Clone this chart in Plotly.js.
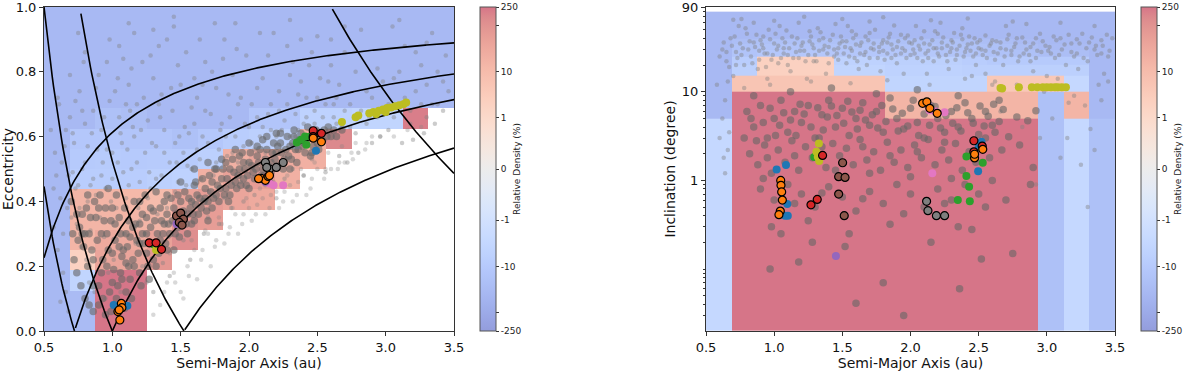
<!DOCTYPE html>
<html>
<head>
<meta charset="utf-8">
<script src="https://cdn.plot.ly/plotly-3.0.1.min.js"></script>
<style>body{margin:0;background:#fff;} #plot{width:1200px;height:372px;}</style>
</head>
<body>
<div id="plot"></div>
<script>
// bin edges of the density maps
var aEdges = [0.5, 0.6875, 0.875, 1.0625, 1.25, 1.4375, 1.625, 1.8125, 2.0, 2.1875, 2.375, 2.5625, 2.75, 2.9375, 3.125, 3.3125, 3.5];
var eEdges = [0, 0.0625, 0.125, 0.1875, 0.25, 0.3125, 0.375, 0.4375, 0.5, 0.5625, 0.625, 0.6875, 0.75, 0.8125, 0.875, 0.9375, 1.0];
// inclination bins are 5 deg wide, the first one starts at the axis bottom (0.02)
var incEdges = [0.02, 5, 10, 15, 20, 25, 30, 35, 40, 45, 50, 55, 60, 65, 70, 75, 80];

// relative density (%) per bin, one row per e bin (bottom to top), null = empty bin
var N = null;
var densityAE = [
  [-35, -30, 250, 250, N, N, N, N, N, N, N, N, N, N, N, N],
  [-35, -30, 250, 250, N, N, N, N, N, N, N, N, N, N, N, N],
  [-35, -4, 250, 250, N, N, N, N, N, N, N, N, N, N, N, N],
  [-35, 2, 40, 40, 80, N, N, N, N, N, N, N, N, N, N, N],
  [-35, 15, 30, 30, 50, 120, N, N, N, N, N, N, N, N, N, N],
  [-35, 15, 15, 15, 15, 90, 60, N, N, N, N, N, N, N, N, N],
  [-35, 15, 15, 12, 10, 40, 60, 40, 30, N, N, N, N, N, N, N],
  [-35, -8, -8, -8, -6, -5, 20, 50, 60, 20, N, N, N, N, N, N],
  [-35, -10, -9, -10, -9, -9, -6, 20, 40, 30, 20, N, N, N, N, N],
  [-35, -12, -12, -14, -14, -20, -12, -8, -6, -6, 20, 150, N, N, N, N],
  [-35, -35, -20, -25, -35, -35, -35, -35, -14, -14, -5, -5, -4, -4, 200, N],
  [-35, -35, -35, -35, -35, -35, -35, -35, -35, -35, -35, -35, -35, -35, -35, -35],
  [-35, -35, -35, -35, -35, -35, -35, -35, -35, -35, -35, -35, -35, -35, -35, -35],
  [-35, -35, -35, -35, -35, -35, -35, -35, -35, -35, -35, -35, -35, -35, -35, -35],
  [-35, -35, -35, -35, -35, -35, -35, -35, -35, -35, -35, -35, -35, -35, -35, -35],
  [-35, -35, -35, -35, -35, -35, -35, -35, -35, -35, -35, -35, -35, -35, -35, -35]
];
var densityAI = [
  [-3, 250, 250, 250, 250, 250, 250, 250, 250, 250, 250, 250, 250, -20, -3, -20],
  [-35, 250, 250, 250, 250, 250, 250, 15, 15, 15, 15, 15, 15, -20, 15, -35],
  [-35, 5, 5, 5, 5, 5, 5, -4, -4, -4, -4, 4, 4, 4, -3, -35],
  [-35, -6, 2, 2, 2, -4, -4, -5, -5, -5, -6, -6, -6, -6, -6, -35],
  [-35, -8, 2, 2, 2, -5, -5, -6, -6, -6, -8, -10, -10, -10, -10, -35],
  [-35, -15, -12, -12, -12, -12, -12, -12, -12, -15, -15, -18, -20, -25, -25, -35],
  [-35, -18, -15, -15, -15, -15, -15, -15, -15, -18, -18, -20, -25, -30, -30, -35],
  [-35, -25, -20, -20, -20, -20, -20, -20, -20, -20, -25, -25, -30, -35, -35, -35],
  [-35, -35, -35, -35, -35, -35, -35, -35, -35, -35, -35, -35, -35, -35, -35, -35],
  [-35, -35, -35, -35, -35, -35, -35, -35, -35, -35, -35, -35, -35, -35, -35, -35],
  [-35, -35, -35, -35, -35, -35, -35, -35, -35, -35, -35, -35, -35, -35, -35, -35],
  [-35, -35, -35, -35, -35, -35, -35, -35, -35, -35, -35, -35, -35, -35, -35, -35],
  [-35, -35, -35, -35, -35, -35, -35, -35, -35, -35, -35, -35, -35, -35, -35, -35],
  [-35, -35, -35, -35, -35, -35, -35, -35, -35, -35, -35, -35, -35, -35, -35, -35],
  [-35, -35, -35, -35, -35, -35, -35, -35, -35, -35, -35, -35, -35, -35, -35, -35],
  [-35, -35, -35, -35, -35, -35, -35, -35, -35, -35, -35, -35, -35, -35, -35, -35]
];

// planets used for the q / Q lines
var planetA = [0.387, 0.723, 1.0, 1.524, 5.203];

// background population (small grey points), [a, e]
var hazeAE = [[0.58,0.55],[0.62,0.41],[0.66,0.62],[0.6,0.72],[0.68,0.48],[0.64,0.3],[0.7,0.35],[0.57,0.44],[0.69,0.66],[0.63,0.52],
  [0.72,0.58],[0.75,0.45],[0.78,0.68],[0.8,0.52],[0.82,0.4],[0.85,0.61],[0.88,0.75],[0.74,0.33],[0.77,0.26],[0.81,0.22],
  [0.86,0.47],[0.79,0.83],[0.84,0.31],[0.73,0.71],[0.89,0.56],[0.76,0.38],[0.83,0.15],[0.87,0.12],[0.8,0.64],[0.71,0.49],
  [0.92,0.62],[0.95,0.44],[0.98,0.71],[1.0,0.55],[1.03,0.38],[1.05,0.66],[1.08,0.49],[0.94,0.29],[0.97,0.18],[1.01,0.22],
  [1.06,0.12],[1.09,0.3],[0.96,0.83],[1.04,0.78],[0.93,0.52],[1.07,0.58],[0.99,0.4],[1.02,0.06],[0.95,0.1],[1.1,0.7],
  [0.91,0.35],[1.05,0.88],[1.12,0.45],[1.15,0.63],[1.18,0.52],[1.2,0.34],[1.23,0.72],[1.26,0.41],[1.29,0.58],[1.14,0.81],
  [1.17,0.27],[1.22,0.2],[1.25,0.15],[1.28,0.85],[1.13,0.68],[1.19,0.38],[1.27,0.49],[1.21,0.62],[1.16,0.92],[1.24,0.3],
  [1.3,0.12],[1.11,0.56],[1.32,0.47],[1.35,0.66],[1.38,0.55],[1.4,0.38],[1.43,0.75],[1.46,0.43],[1.49,0.6],[1.52,0.28],
  [1.55,0.51],[1.58,0.69],[1.34,0.88],[1.37,0.21],[1.42,0.17],[1.45,0.94],[1.48,0.82],[1.51,0.36],[1.54,0.45],[1.57,0.22],
  [1.6,0.78],[1.33,0.36],[1.41,0.29],[1.47,0.52],[1.53,0.63],[1.59,0.4],[1.36,0.73],[1.62,0.56],[1.65,0.47],[1.68,0.68],
  [1.7,0.35],[1.73,0.8],[1.76,0.52],[1.79,0.62],[1.82,0.41],[1.85,0.73],[1.88,0.55],[1.91,0.87],[1.94,0.46],[1.97,0.64],
  [1.64,0.9],[1.67,0.3],[1.71,0.43],[1.75,0.95],[1.78,0.33],[1.83,0.6],[1.87,0.38],[1.92,0.7],[1.96,0.4],[1.99,0.52],
  [1.66,0.76],[1.81,0.84],[2.02,0.58],[2.06,0.75],[2.1,0.63],[2.14,0.85],[2.18,0.55],[2.22,0.68],[2.26,0.47],[2.3,0.79],
  [2.34,0.6],[2.38,0.9],[2.42,0.66],[2.46,0.53],[2.5,0.72],[2.04,0.42],[2.08,0.92],[2.12,0.45],[2.16,0.7],[2.2,0.41],
  [2.24,0.62],[2.28,0.88],[2.32,0.5],[2.36,0.73],[2.4,0.48],[2.44,0.82],[2.48,0.64],[2.54,0.58],[2.58,0.77],[2.62,0.66],
  [2.66,0.54],[2.7,0.86],[2.74,0.7],[2.78,0.61],[2.82,0.93],[2.86,0.74],[2.9,0.58],[2.94,0.81],[2.98,0.67],[2.56,0.49],
  [2.6,0.9],[2.68,0.63],[2.72,0.52],[2.8,0.55],[2.88,0.66],[2.96,0.6],[2.64,0.72],[3.02,0.62],[3.06,0.78],[3.1,0.7],
  [3.14,0.88],[3.18,0.64],[3.22,0.74],[3.26,0.82],[3.3,0.66],[3.34,0.92],[3.38,0.7],[3.42,0.77],[3.05,0.94],[3.2,0.59],
  [3.28,0.61],[3.36,0.64],[3.12,0.58],[3.44,0.85],
  [0.55,0.62],[0.59,0.48],[0.61,0.7],[0.65,0.57],[0.67,0.38],[0.69,0.79],[0.71,0.61],[0.73,0.44],[0.76,0.74],[0.78,0.5],
  [0.8,0.86],[0.82,0.57],[0.84,0.45],[0.86,0.68],[0.88,0.42],[0.9,0.79],[0.92,0.48],[0.94,0.66],[0.96,0.56],[0.98,0.9],
  [1.0,0.47],[1.02,0.74],[1.04,0.52],[1.06,0.61],[1.08,0.84],[1.1,0.41],[1.12,0.76],[1.14,0.5],[1.16,0.6],[1.18,0.7],
  [1.2,0.46],[1.22,0.83],[1.24,0.55],[1.26,0.65],[1.28,0.44],[1.3,0.78],[1.32,0.57],[1.34,0.7],[1.36,0.48],[1.38,0.62],
  [1.4,0.9],[1.42,0.52],[1.44,0.68],[1.46,0.58],[1.48,0.46],[1.5,0.76],[1.52,0.55],[1.54,0.86],[1.56,0.61],[1.58,0.5],
  [1.6,0.64],[1.62,0.72],[1.64,0.53],[1.66,0.6],[1.68,0.83],[1.7,0.58],[1.72,0.67],[1.74,0.48],[1.76,0.75],[1.78,0.56],
  [1.8,0.64],[1.82,0.9],[1.84,0.54],[1.86,0.66],[1.88,0.79],[1.9,0.6],[1.92,0.52],[1.94,0.72],[1.96,0.57],[1.98,0.85],
  [2.0,0.63],[2.02,0.7],[2.04,0.56],[2.06,0.66],[2.08,0.6],[2.1,0.78],[2.12,0.55],[2.14,0.67],[2.16,0.62],[2.18,0.92],
  [2.2,0.6],[2.22,0.74],[2.24,0.56],[2.26,0.65],[2.28,0.7],[2.3,0.6],[2.32,0.83],[2.34,0.67],[2.36,0.62],[2.38,0.77],
  [2.4,0.64],[2.42,0.72],[2.44,0.6],[2.46,0.86],[2.48,0.68],[2.5,0.62],[2.52,0.78],[2.54,0.66],[2.56,0.7],[2.58,0.62],
  [2.6,0.82],[2.62,0.7],[2.64,0.64],[2.66,0.76],[2.7,0.68],[2.74,0.63],[2.78,0.8],[2.82,0.68],[2.86,0.64],[2.9,0.72],
  [2.94,0.66],[2.98,0.77],[3.02,0.7],[3.06,0.66],[3.1,0.8],[3.14,0.72],[3.18,0.68],[3.22,0.86],[3.26,0.7],[3.3,0.76],
  [3.34,0.7],[3.38,0.8],[3.42,0.68],[3.46,0.74],[1.12,0.95],[1.45,0.97],[1.9,0.95],[2.3,0.96],[2.7,0.94],[3.1,0.96],
  [0.75,0.92],[1.3,0.93],[2.5,0.91],[3.3,0.89],[0.57,0.32],[0.6,0.25],[0.64,0.18],[0.66,0.12],[0.68,0.06],[0.62,0.09]];
// objects just below the band (light grey, outside the bins)
var lowAE = [[1.4,0.15],[1.5,0.12],[1.55,0.2],[1.6,0.25],[1.7,0.3],[1.8,0.33],[1.9,0.36],[2.0,0.38],[2.1,0.41],[2.2,0.43],
  [2.3,0.45],[2.4,0.48],[2.5,0.5],[2.6,0.5],[2.7,0.52],[1.65,0.22],[1.75,0.26],[1.85,0.3],[1.95,0.33],[2.05,0.36],
  [2.15,0.38],[2.25,0.4],[2.35,0.42],[2.45,0.44],[2.55,0.47],[2.65,0.5],[2.75,0.55],[2.85,0.56],[1.35,0.08],[1.45,0.18],
  [1.52,0.1],[1.62,0.16],[1.72,0.2],[1.82,0.27],[1.92,0.3],[2.02,0.34],[2.12,0.36],[2.22,0.38],[2.32,0.4],[2.42,0.42],
  [1.3,0.05],[1.38,0.12],[1.46,0.15],[1.56,0.17],[1.66,0.25],[1.76,0.28],[1.86,0.32],[1.96,0.36],[2.06,0.39],[2.16,0.42],
  [2.26,0.43],[2.36,0.46],[2.46,0.47],[2.56,0.5],[2.66,0.52],[2.76,0.53],[2.86,0.58],[2.96,0.6],[3.06,0.6],[3.16,0.62],
  [3.26,0.63],[1.42,0.24],[1.58,0.28],[1.68,0.31],[1.78,0.35],[1.88,0.38],[1.98,0.41],[2.08,0.44],[2.18,0.46],[2.28,0.48],
  [2.38,0.5],[2.48,0.52],[2.58,0.55],[2.68,0.57],[2.78,0.58],[2.9,0.6]];

// denser sample (larger grey points) along the band, [a, e]
var bandAE = [[0.9,0.08],[0.95,0.05],[0.98,0.12],[1.0,0.15],[1.03,0.1],[1.06,0.18],[1.1,0.12],[1.12,0.2],[0.92,0.18],[0.97,0.25],
  [1.02,0.28],[1.08,0.25],[1.15,0.22],[1.18,0.28],[1.2,0.18],[1.22,0.3],[1.25,0.24],[1.28,0.32],[1.3,0.22],[1.33,0.3],
  [1.35,0.28],[1.38,0.33],[1.4,0.36],[1.42,0.3],[1.45,0.38],[1.48,0.32],[1.5,0.4],[1.55,0.36],[1.58,0.4],[1.6,0.34],
  [1.62,0.42],[1.65,0.38],[1.68,0.44],[1.7,0.4],[1.73,0.46],[1.76,0.42],[1.8,0.47],[1.83,0.44],[1.86,0.5],[1.9,0.46],
  [1.93,0.5],[1.96,0.47],[2.0,0.52],[2.03,0.49],[2.06,0.54],[2.1,0.5],[2.13,0.56],[2.16,0.52],[2.2,0.55],[2.23,0.58],
  [2.26,0.53],[2.3,0.57],[2.33,0.6],[2.36,0.56],[2.4,0.58],[2.44,0.6],[2.5,0.58],[2.55,0.62],[2.6,0.6],[0.8,0.3],
  [0.85,0.25],[0.78,0.36],[0.88,0.35],[0.92,0.3],[0.75,0.28],[0.82,0.2],[0.95,0.38],[1.05,0.35],[1.1,0.3],[1.15,0.32],
  [0.86,0.14],[1.25,0.35],[1.45,0.25],[1.55,0.3],[1.7,0.34],[1.85,0.4],[2.0,0.44],[2.15,0.46],[2.3,0.5],[1.95,0.55],
  [1.75,0.5],[2.45,0.54],[1.6,0.45],[1.35,0.38],[1.2,0.4],[0.7,0.4],[0.72,0.22],
  [0.86,0.06],[0.9,0.14],[0.93,0.1],[0.96,0.2],[0.99,0.06],[1.01,0.19],[1.04,0.14],[1.07,0.23],[1.09,0.07],[1.11,0.26],
  [1.13,0.16],[1.16,0.2],[1.19,0.24],[1.21,0.14],[1.23,0.27],[1.26,0.2],[1.29,0.27],[1.31,0.34],[1.34,0.24],[1.37,0.3],
  [1.39,0.27],[1.41,0.33],[1.44,0.34],[1.47,0.36],[1.49,0.29],[1.52,0.37],[1.54,0.33],[1.57,0.38],[1.59,0.36],[1.61,0.39],
  [1.64,0.41],[1.67,0.4],[1.69,0.37],[1.72,0.43],[1.74,0.41],[1.77,0.45],[1.79,0.44],[1.82,0.42],[1.84,0.47],[1.87,0.45],
  [1.89,0.49],[1.92,0.48],[1.94,0.45],[1.97,0.5],[1.99,0.48],[2.02,0.51],[2.05,0.5],[2.07,0.52],[2.09,0.48],[2.12,0.53],
  [2.14,0.51],[2.17,0.55],[2.19,0.53],[2.21,0.57],[2.24,0.55],[2.27,0.56],[2.29,0.54],[2.32,0.58],[2.34,0.56],[2.37,0.59],
  [2.39,0.57],[2.42,0.58],[2.47,0.57],[2.52,0.6],[2.57,0.6],[2.62,0.62],[0.76,0.32],[0.79,0.26],[0.81,0.38],[0.83,0.3],
  [0.87,0.4],[0.89,0.28],[0.91,0.42],[0.94,0.34],[0.97,0.44],[1.0,0.38],[1.03,0.42],[1.06,0.3],[1.09,0.38],[1.12,0.34],
  [1.16,0.4],[1.2,0.33],[1.24,0.42],[1.28,0.38],[1.32,0.43],[1.4,0.42],[1.5,0.46],[1.6,0.5],[1.7,0.52],[1.8,0.53],
  [1.9,0.56],[2.0,0.58],[2.1,0.59],[2.2,0.61],[0.74,0.18],[0.77,0.14],[0.8,0.1],[0.83,0.08],
  [1.0,0.24],[1.02,0.33],[1.05,0.26],[1.07,0.16],[1.1,0.21],[1.13,0.29],[1.14,0.1],[1.17,0.33],[1.2,0.27],[1.22,0.36],
  [1.25,0.3],[1.27,0.16],[1.3,0.37],[1.32,0.2],[1.36,0.34],[1.38,0.4],[1.4,0.25],[1.43,0.41],[1.46,0.3],[1.48,0.42],
  [1.51,0.33],[1.53,0.43],[1.56,0.41],[1.58,0.33],[1.61,0.46],[1.63,0.36],[1.66,0.47],[1.68,0.41],[1.71,0.48],[1.73,0.38],
  [1.76,0.5],[1.78,0.4],[1.81,0.5],[1.83,0.52],[1.86,0.42],[1.88,0.53],[1.91,0.44],[1.93,0.54],[1.96,0.52],[1.98,0.45],
  [2.01,0.55],[2.04,0.47],[2.06,0.57],[2.08,0.56],[2.11,0.48],[2.13,0.6],[2.16,0.49],[2.18,0.58],[2.21,0.51],[2.23,0.61],
  [2.25,0.5],[2.28,0.6],[2.31,0.53],[2.33,0.62],[2.35,0.52],[2.38,0.61],[2.41,0.55],[2.43,0.63],[2.46,0.55],[2.49,0.62],
  [2.51,0.56],[2.54,0.59],[2.58,0.63],[2.64,0.6],[2.68,0.62],[0.84,0.35],[0.86,0.22],[0.9,0.38],[0.93,0.22],[0.96,0.3],
  [0.99,0.34],[0.82,0.42],[0.78,0.3],[0.74,0.36],[0.71,0.3]];

// background population in [a, inclination (deg)]
var hazeAI = [[0.62,30],[0.65,22],[0.68,40],[0.7,15],[0.72,28],[0.75,35],[0.78,20],[0.8,45],[0.83,25],[0.86,32],
  [0.88,18],[0.9,38],[0.93,27],[0.96,50],[0.98,23],[0.58,12],[0.64,8],[0.6,3],[0.66,2.2],[0.63,1.8],
  [0.74,55],[0.85,60],[0.95,14],[0.7,65],[0.92,42],[1.02,30],[1.05,24],[1.08,36],[1.1,20],[1.13,42],
  [1.16,28],[1.2,33],[1.23,22],[1.26,48],[1.3,26],[1.33,38],[1.36,30],[1.4,21],[1.43,44],[1.46,27],
  [1.48,35],[1.04,55],[1.12,17],[1.18,60],[1.24,14],[1.32,52],[1.38,16],[1.45,58],[1.06,40],[1.28,34],
  [1.52,32],[1.55,25],[1.58,40],[1.61,22],[1.64,36],[1.67,28],[1.7,46],[1.73,30],[1.76,24],[1.8,38],
  [1.83,27],[1.86,34],[1.9,21],[1.93,44],[1.96,29],[1.99,36],[1.54,55],[1.62,18],[1.7,62],[1.78,17],
  [1.88,56],[1.95,16],[1.57,48],[1.85,45],[1.68,20],[2.02,30],[2.05,24],[2.08,40],[2.11,27],[2.14,34],
  [2.17,22],[2.2,45],[2.23,31],[2.26,26],[2.3,38],[2.33,23],[2.36,33],[2.4,28],[2.43,42],[2.46,25],
  [2.49,36],[2.04,55],[2.12,16],[2.22,60],[2.28,18],[2.38,52],[2.45,15],[2.18,48],[2.32,46],[2.48,20],
  [2.52,30],[2.56,24],[2.6,38],[2.64,27],[2.68,20],[2.72,44],[2.76,32],[2.8,25],[2.84,36],[2.88,22],
  [2.92,40],[2.96,28],[2.55,16],[2.7,55],[2.85,58],[2.62,13],[2.78,12],[2.9,17],[2.98,10],[2.66,6],
  [2.82,4],[3.02,32],[3.06,24],[3.1,40],[3.14,20],[3.18,35],[3.22,27],[3.26,45],[3.3,22],[3.35,30],
  [3.4,38],[3.45,25],[3.08,14],[3.2,9],[3.28,7],[3.38,12],[3.15,3],[3.25,1.5],[3.32,3.8],[3.42,16],[3.04,5],
  [0.6,25],[0.63,36],[0.67,19],[0.71,42],[0.73,24],[0.77,31],[0.79,52],[0.82,37],[0.84,21],[0.87,44],
  [0.89,29],[0.91,34],[0.94,19],[0.97,39],[0.99,26],[1.01,45],[1.03,33],[1.07,27],[1.09,49],[1.11,31],
  [1.14,24],[1.17,40],[1.19,29],[1.21,36],[1.25,26],[1.27,42],[1.29,31],[1.31,22],[1.34,47],[1.37,33],
  [1.39,27],[1.41,38],[1.44,30],[1.47,23],[1.49,42],[1.51,27],[1.53,37],[1.56,31],[1.59,24],[1.6,44],
  [1.63,33],[1.66,26],[1.69,38],[1.71,31],[1.74,50],[1.77,28],[1.79,35],[1.81,23],[1.84,41],[1.87,30],
  [1.89,26],[1.91,37],[1.94,31],[1.97,24],[1.98,43],[2.01,35],[2.03,27],[2.06,33],[2.09,22],[2.1,48],
  [2.13,29],[2.16,38],[2.19,31],[2.21,25],[2.24,41],[2.27,33],[2.29,28],[2.31,36],[2.34,30],[2.37,44],
  [2.39,25],[2.42,34],[2.44,29],[2.47,40],[2.5,31],[2.53,26],[2.55,43],[2.58,33],[2.61,28],[2.63,37],
  [2.66,31],[2.69,25],[2.71,39],[2.74,29],[2.77,35],[2.79,22],[2.82,41],[2.85,30],[2.87,26],[2.9,35],
  [2.93,29],[2.95,45],[2.99,33],[3.03,27],[3.07,38],[3.11,30],[3.16,44],[3.2,25],[3.24,35],[3.29,31],
  [3.33,41],[3.37,26],[3.41,33],[3.46,29],[3.48,40],[0.76,66],[1.0,63],[1.22,70],[1.5,66],[1.8,69],
  [2.15,64],[2.42,67],[2.75,62],[3.1,60],[3.35,55],[0.66,13],[0.78,11],[0.97,12],[1.27,13],[1.56,12.5],
  [1.83,13.5],[2.14,12],[2.4,14],[2.6,12],[3.0,15],[3.23,18],[3.45,13],[0.62,5],[0.67,3.5],[0.64,1.2],
  [3.1,1.8],[3.35,2.2],[3.3,0.5],[3.16,7.5],[2.95,3],[2.92,0.9],[3.4,8],
  [0.65,28],[0.69,33],[0.72,20],[0.76,26],[0.81,30],[0.85,36],[0.89,23],[0.92,31],[0.95,27],[1.0,35],
  [1.03,21],[1.07,31],[1.1,26],[1.15,35],[1.18,24],[1.22,29],[1.26,37],[1.29,22],[1.33,29],[1.36,40],
  [1.4,32],[1.44,25],[1.47,31],[1.5,37],[1.53,21],[1.57,29],[1.6,34],[1.63,27],[1.67,42],[1.7,24],
  [1.73,35],[1.77,32],[1.8,29],[1.83,36],[1.86,24],[1.9,32],[1.93,27],[1.96,40],[2.0,26],[2.03,38],
  [2.07,30],[2.1,35],[2.13,24],[2.17,31],[2.2,27],[2.23,36],[2.27,22],[2.3,31],[2.34,26],[2.38,39],
  [2.41,31],[2.45,35],[2.48,27],[2.51,38],[2.55,29],[2.59,35],[2.62,23],[2.66,36],[2.7,30],[2.74,26],
  [2.78,40],[2.83,27],[2.88,32],[2.92,24],[2.97,37],[3.01,29],[3.05,42],[3.09,26],[3.13,34],[3.18,28],
  [3.22,39],[3.27,24],[3.31,36],[3.36,33],[3.4,27],[3.44,44]];

// sample in [a, inclination] (larger grey points)
var bandAI = [[0.8,6],[0.85,4],[0.9,7],[0.95,3],[1.0,5],[1.05,8],[1.1,3.5],[1.15,6],[1.2,4.5],[1.25,7],
  [1.3,3],[1.35,5.5],[1.4,8],[1.45,4],[1.5,6.5],[1.55,3.2],[1.6,5],[1.65,7.5],[1.7,4.2],[1.75,6],
  [1.8,3.5],[1.85,8.5],[1.9,5],[1.95,3.8],[2.0,6.5],[2.05,4.5],[2.1,3],[2.15,7],[2.2,5],[2.25,3.5],
  [2.3,6],[2.35,4],[2.4,7.5],[2.45,5],[2.5,3.3],[2.55,6],[2.6,4.2],[0.82,2],[0.88,1.5],[0.93,2.5],
  [0.98,1.2],[1.03,2.2],[1.08,1.6],[1.13,2.8],[1.18,1.3],[1.23,2.4],[1.28,1.8],[1.33,3],[1.38,1.4],[1.43,2.6],
  [1.48,1.9],[1.53,2.3],[1.58,1.5],[1.63,2.9],[1.68,1.7],[1.73,2.1],[1.78,1.3],[1.83,2.7],[1.88,1.6],[1.93,2.2],
  [1.98,1.4],[2.03,2.5],[2.08,1.8],[2.13,2.9],[2.18,1.5],[2.23,2.2],[2.28,1.7],[2.33,2.6],[2.38,1.3],[2.43,2.1],
  [2.48,1.6],[2.53,2.4],[2.58,1.8],[2.62,3.5],[0.9,0.8],[1.0,0.6],[1.1,0.9],[1.2,0.7],[1.3,0.5],[1.4,0.85],
  [1.5,0.65],[1.6,0.45],[1.7,0.75],[1.8,0.55],[1.9,0.9],[2.0,0.7],[2.1,0.5],[2.2,0.8],[2.3,0.6],[2.4,0.9],
  [2.5,0.7],[2.6,1.0],[0.98,0.3],[1.25,0.35],[1.55,0.25],[1.85,0.32],[2.35,0.3],[2.45,0.28],[1.95,0.03],[1.6,0.041],
  [1.28,0.2],[2.7,0.6],[2.9,1.4],[2.8,2.5],[0.85,9],[1.12,10],[1.42,11],[1.75,9.5],[2.05,10.5],[2.35,9],
  [2.65,8],[1.05,0.25],[2.75,0.15],[2.88,0.9],[1.8,0.07],[2.36,0.06],[0.97,0.1],
  [0.78,3],[0.83,5],[0.87,2.8],[0.92,4.5],[0.97,6.5],[1.01,3.2],[1.04,4.2],[1.07,5.8],[1.12,4.8],[1.16,3.2],
  [1.19,7.2],[1.22,5.6],[1.27,4],[1.32,6.6],[1.36,3.7],[1.39,5.2],[1.42,6.9],[1.46,5.4],[1.51,4.4],[1.54,7.8],
  [1.57,5.9],[1.61,3.8],[1.63,6.2],[1.67,4.8],[1.72,5.5],[1.76,3.9],[1.79,7],[1.82,4.6],[1.87,6.4],[1.91,3.6],
  [1.94,5.7],[1.98,4.1],[2.02,8],[2.06,3.2],[2.1,5.6],[2.14,4.2],[2.18,6.8],[2.22,3.9],[2.26,5.4],[2.31,4.4],
  [2.34,6.6],[2.37,3.6],[2.42,5.8],[2.46,4.4],[2.51,6.9],[2.54,4.1],[2.57,5.3],[2.61,7.2],[2.65,4.6],[2.68,6.3],
  [2.72,3.1],[2.78,5.2],[2.86,4.7],[2.92,6.1],[0.95,1.8],[1.15,1.9],[1.35,2.4],[1.65,2.4],[1.85,1.9],[2.05,2.1],
  [2.25,2.7],[2.55,3],[2.67,2.2],[1.45,1.3],[1.7,1.2],[2.0,1.1],[2.3,1.05],[0.92,1.05],[1.15,0.55],[1.35,0.72],
  [1.65,0.62],[1.95,0.42],[2.25,0.55],[2.55,0.5],[1.52,0.18],[1.18,0.12],[2.15,0.2],[2.52,0.13]];

// highlighted objects: a / e (left) and a / i (right)
var blueA = [1.01, 1.06, 1.11, 2.49], blueE = [0.08, 0.082, 0.078, 0.556];
var greenA = [1.30, 2.35, 2.41, 2.42, 2.38, 2.45], greenE = [0.268, 0.582, 0.6, 0.575, 0.59, 0.6];
var pinkA = [2.13, 2.18, 2.25, 2.15], pinkE = [0.475, 0.45, 0.45, 0.455];
var purpleA = [1.47, 2.12], purpleE = [0.33, 0.46];
var oliveA = [1.33, 1.34, 1.32, 2.68, 2.78, 2.80, 2.88, 2.91, 2.93, 2.95, 2.98, 3.0, 3.01, 3.04, 3.07, 3.1, 3.13, 3.15];
var oliveE = [0.262, 0.255, 0.25, 0.645, 0.66, 0.665, 0.672, 0.676, 0.67, 0.68, 0.684, 0.676, 0.688, 0.69, 0.694, 0.697, 0.70, 0.705];
var orangeA = [1.066, 1.07, 1.041, 1.055, 1.05, 2.09, 2.12, 2.14, 2.15, 2.07, 2.47, 2.53];
var orangeE = [0.085, 0.072, 0.06, 0.034, 0.065, 0.471, 0.465, 0.477, 0.48, 0.47, 0.595, 0.584];
var redA = [1.27, 1.32, 1.36, 2.47, 2.47, 2.53], redE = [0.272, 0.272, 0.252, 0.618, 0.6, 0.61];
var brownA = [1.47, 1.5, 1.52, 1.49, 1.51], brownE = [0.355, 0.364, 0.345, 0.335, 0.327];
var greyA = [2.12, 2.15, 2.2, 2.25, 2.13], greyE = [0.52, 0.5, 0.505, 0.52, 0.505];

var blueIA = [1.018, 1.087, 1.096, 1.1, 1.08, 2.496, 2.52, 2.5], blueI = [1.33, 1.49, 0.54, 0.40, 0.40, 1.27, 2.72, 2.4];
var greenIA = [1.294, 2.347, 2.435, 2.43, 2.41, 2.41, 2.53, 2.45], greenI = [1.84, 0.6, 0.58, 0.85, 1.12, 1.86, 1.58, 1.9];
var pinkIA = [2.16, 2.25, 2.14, 2.18], pinkI = [1.2, 5.85, 6.2, 6.0];
var purpleIA = [1.453, 2.13], purpleI = [0.14, 7.0];
var oliveIA = [1.328, 1.31, 1.32, 1.33, 2.66, 2.672, 2.795, 2.89, 2.93, 2.97, 3.0, 3.03, 3.06, 3.08, 3.11, 3.14];
var oliveI = [2.6, 2.1, 1.85, 1.65, 11, 10.9, 11.2, 11.2, 11.2, 11.2, 11.2, 11.2, 11.2, 11.2, 11.2, 11.2];
var orangeIA = [1.048, 1.05, 1.055, 1.06, 1.045, 1.035, 2.089, 2.12, 2.142, 2.196, 2.47, 2.53, 2.47];
var orangeI = [1.0, 0.88, 0.74, 0.6, 0.45, 0.41, 7.4, 7.7, 6.5, 5.7, 1.79, 2.24, 1.97];
var redIA = [1.355, 1.27, 1.316, 2.465, 2.465, 2.526], redI = [1.91, 0.53, 0.61, 2.8, 2.1, 2.44];
var brownIA = [1.502, 1.473, 1.52, 1.473, 1.514], brownI = [1.58, 1.1, 1.08, 0.70, 0.40];
var greyIA = [2.118, 2.128, 2.19, 2.25], greyI = [0.58, 0.455, 0.40, 0.40];

// colour bar labels
var cbTicks = [-250, -100, -10, -1, 0, 1, 10, 100, 250];
var cbText = ['-250', '', '-10', '-1', '0', '1', '10', '', '250'];

// symlog (linthresh 1) like matplotlib
function symlog(v) {
  if (v === null) return null;
  var m = Math.abs(v), s = v < 0 ? -1 : 1;
  return s * (m <= 1 ? m / 0.9 : 1 / 0.9 + Math.log10(m));
}
var zMax = symlog(250);

// coolwarm, faded with white (alpha 0.55)
var coolwarm = [[59,76,192],[68,90,204],[77,104,215],[87,117,225],[98,130,234],[108,142,241],[119,154,247],[130,165,251],[141,176,254],[152,185,255],[163,194,255],[174,201,253],[184,208,249],[194,213,244],[204,217,238],[213,219,230],[221,221,221],[229,216,209],[236,211,197],[241,204,185],[245,196,173],[247,187,160],[247,177,148],[247,166,135],[244,154,123],[241,141,111],[236,127,99],[229,112,88],[222,96,77],[213,80,66],[203,62,56],[192,40,47],[180,4,38]];
var alpha = 0.55;
var colorscale = coolwarm.map(function(c, i) {
  var f = c.map(function(v) { return Math.round(alpha * v + (1 - alpha) * 255); });
  return [i / (coolwarm.length - 1), 'rgb(' + f.join(',') + ')'];
});

function colorbar(x) {
  return {
    x: x, xanchor: 'left', xpad: 0, ypad: 0, y: 0.5, len: 1, thickness: 16,
    outlinewidth: 1, outlinecolor: '#555',
    tickvals: cbTicks.map(symlog), ticktext: cbText,
    ticks: 'outside', ticklen: 3, tickcolor: '#333',
    tickfont: {size: 9, color: '#222'},
    title: {text: 'Relative Density (%)', side: 'right', font: {size: 9, color: '#222'}}
  };
}

function points(x, y, color, size, opacity, outline, xa, ya) {
  return {
    type: 'scatter', mode: 'markers', x: x, y: y, xaxis: xa, yaxis: ya,
    hoverinfo: 'skip', showlegend: false,
    marker: {color: color, size: size, opacity: opacity,
      line: {color: '#000', width: outline ? 1.2 : 0}}
  };
}
function col0(p) { return p.map(function(r) { return r[0]; }); }
function col1(p) { return p.map(function(r) { return r[1]; }); }

var traces = [];

// left panel: a-e
traces.push({type: 'heatmap', x: aEdges, y: eEdges, z: densityAE.map(r => r.map(symlog)),
  zmin: -zMax, zmax: zMax, colorscale: colorscale, colorbar: colorbar(0.4),
  xaxis: 'x', yaxis: 'y', hoverinfo: 'skip'});
traces.push(points(col0(hazeAE), col1(hazeAE), '#808080', 4.5, 0.4, false, 'x', 'y'));
traces.push(points(col0(lowAE), col1(lowAE), '#808080', 4.5, 0.3, false, 'x', 'y'));
traces.push(points(col0(bandAE), col1(bandAE), '#666666', 7.5, 0.6, false, 'x', 'y'));

// q = a(1-e) and Q = a(1+e) for each planet
planetA.forEach(function(ap) {
  var qa = [], qe = [], Qa = [], Qe = [];
  for (var a = 0.5; a <= 3.5001; a += 0.01) {
    if (a >= ap) { qa.push(a); qe.push(1 - ap / a); }
    if (a >= ap / 2 && a <= ap) { Qa.push(a); Qe.push(ap / a - 1); }
  }
  if (ap <= 3.5 && ap >= 0.5) { Qa.push(ap); Qe.push(0); }
  [[qa, qe], [Qa, Qe]].forEach(function(l) {
    if (l[0].length) traces.push({type: 'scatter', mode: 'lines', x: l[0], y: l[1], xaxis: 'x', yaxis: 'y',
      line: {color: '#000', width: 1.6}, hoverinfo: 'skip', showlegend: false});
  });
});

var col = {blue: '#1f77b4', orange: '#ff7f0e', green: '#2ca02c', red: '#d62728', purple: '#9467bd',
  brown: '#8c564b', pink: '#e377c2', grey: '#7f7f7f', olive: '#bcbd22'};
var S = 8;
traces.push(points(blueA, blueE, col.blue, S, 1, false, 'x', 'y'));
traces.push(points(greenA, greenE, col.green, S, 1, false, 'x', 'y'));
traces.push(points(pinkA, pinkE, col.pink, S, 1, false, 'x', 'y'));
traces.push(points(purpleA, purpleE, col.purple, S, 1, false, 'x', 'y'));
traces.push(points(oliveA, oliveE, col.olive, S, 1, false, 'x', 'y'));
traces.push(points(greyA, greyE, col.grey, S, 1, true, 'x', 'y'));
traces.push(points(brownA, brownE, col.brown, S, 1, true, 'x', 'y'));
traces.push(points(redA, redE, col.red, S, 1, true, 'x', 'y'));
traces.push(points(orangeA, orangeE, col.orange, S, 1, true, 'x', 'y'));

// right panel: a-i
traces.push({type: 'heatmap', x: aEdges, y: incEdges, z: densityAI.map(r => r.map(symlog)),
  zmin: -zMax, zmax: zMax, colorscale: colorscale, colorbar: colorbar(0.9508),
  xaxis: 'x2', yaxis: 'y2', hoverinfo: 'skip'});
traces.push(points(col0(hazeAI), col1(hazeAI), '#808080', 4.5, 0.42, false, 'x2', 'y2'));
traces.push(points(col0(bandAI), col1(bandAI), '#666666', 7.5, 0.6, false, 'x2', 'y2'));
traces.push(points(blueIA, blueI, col.blue, S, 1, false, 'x2', 'y2'));
traces.push(points(greenIA, greenI, col.green, S, 1, false, 'x2', 'y2'));
traces.push(points(pinkIA, pinkI, col.pink, S, 1, false, 'x2', 'y2'));
traces.push(points(purpleIA, purpleI, col.purple, S, 1, false, 'x2', 'y2'));
traces.push(points(oliveIA, oliveI, col.olive, S, 1, false, 'x2', 'y2'));
traces.push(points(greyIA, greyI, col.grey, S, 1, true, 'x2', 'y2'));
traces.push(points(brownIA, brownI, col.brown, S, 1, true, 'x2', 'y2'));
traces.push(points(redIA, redI, col.red, S, 1, true, 'x2', 'y2'));
traces.push(points(orangeIA, orangeI, col.orange, S, 1, true, 'x2', 'y2'));

var axisStyle = {showline: true, mirror: true, linecolor: '#333', linewidth: 1, showgrid: false, zeroline: false,
  ticks: 'outside', ticklen: 4, tickcolor: '#333', tickfont: {size: 13, color: '#111'}, ticklabeloverflow: 'allow'};
var minorI = [0.03,0.04,0.05,0.06,0.07,0.08,0.09,0.1,0.2,0.3,0.4,0.5,0.6,0.7,0.8,0.9,2,3,4,5,6,7,8,9,20,30,40,50,60,70,80];

var layout = {
  width: 1200, height: 372,
  margin: {l: 0, r: 0, t: 7, b: 41},
  paper_bgcolor: '#fff', plot_bgcolor: '#fff',
  font: {family: 'DejaVu Sans', color: '#111'},
  xaxis: Object.assign({}, axisStyle, {domain: [44 / 1200, 454 / 1200], range: [0.5, 3.5], anchor: 'y',
    tickvals: [0.5, 1, 1.5, 2, 2.5, 3, 3.5], tickformat: '.1f',
    title: {text: 'Semi-Major Axis (au)', font: {size: 14}, standoff: 0}}),
  yaxis: Object.assign({}, axisStyle, {domain: [0, 1], range: [0, 1], anchor: 'x',
    tickvals: [0, 0.2, 0.4, 0.6, 0.8, 0.99999], ticktext: ['0.0', '0.2', '0.4', '0.6', '0.8', '1.0'],
    title: {text: 'Eccentricity', font: {size: 14}, standoff: 1}}),
  xaxis2: Object.assign({}, axisStyle, {domain: [706 / 1200, 1115 / 1200], range: [0.5, 3.5], anchor: 'y2',
    tickvals: [0.5, 1, 1.5, 2, 2.5, 3, 3.5], tickformat: '.1f',
    title: {text: 'Semi-Major Axis (au)', font: {size: 14}, standoff: 0}}),
  yaxis2: Object.assign({}, axisStyle, {domain: [0, 1], type: 'log', range: [Math.log10(0.02), Math.log10(90.3)], anchor: 'x2',
    tickvals: [1, 10, 90], ticktext: ['1', '10', '90'],
    minor: {tickvals: minorI, ticks: 'outside', ticklen: 2, tickcolor: '#333', showgrid: false},
    title: {text: 'Inclination (degree)', font: {size: 14}, standoff: 2}})
};

Plotly.newPlot('plot', traces, layout, {staticPlot: true});
</script>
</body>
</html>
